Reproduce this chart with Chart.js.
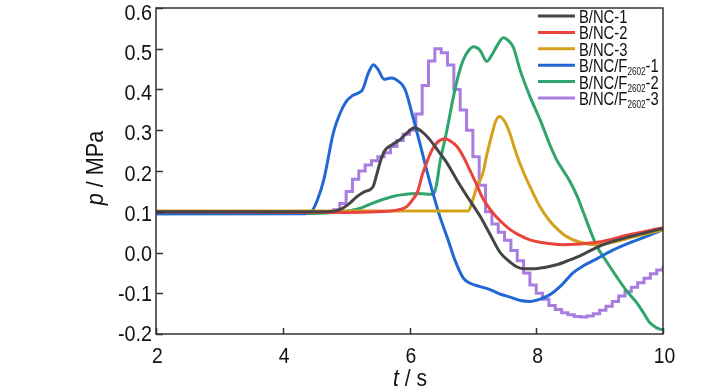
<!DOCTYPE html>
<html>
<head>
<meta charset="utf-8">
<title>p vs t</title>
<script src="https://cdn.jsdelivr.net/npm/chart.js"></script>
<style>
  html, body { margin: 0; padding: 0; background: #fff; }
</style>
</head>
<body>
<canvas id="chartCanvas" width="728" height="390"></canvas>
<script>
  // series: [t (s), p (MPa)]
  const nc1 = [[2, 0.1], [4.7, 0.1], [4.9, 0.105], [5.05, 0.12], [5.17, 0.137], [5.3, 0.15], [5.42, 0.16],
    [5.48, 0.19], [5.55, 0.228], [5.61, 0.25], [5.72, 0.264], [5.85, 0.277], [5.95, 0.292], [6.08, 0.306],
    [6.2, 0.296], [6.32, 0.277], [6.45, 0.25], [6.59, 0.22], [6.74, 0.18], [6.9, 0.14], [7.11, 0.09],
    [7.27, 0.045], [7.43, 0.0], [7.56, -0.02], [7.69, -0.035], [7.82, -0.04], [7.95, -0.04], [8.15, -0.036],
    [8.32, -0.03], [8.5, -0.02], [8.69, -0.008], [9.05, 0.019], [9.48, 0.039], [10, 0.059]];
  const nc2 = [[2, 0.1], [5.0, 0.098], [5.5, 0.1], [5.8, 0.104], [5.95, 0.112], [6.05, 0.13], [6.13, 0.15],
    [6.2, 0.19], [6.27, 0.22], [6.35, 0.25], [6.43, 0.269], [6.56, 0.279], [6.65, 0.273], [6.75, 0.26],
    [6.85, 0.235], [6.95, 0.203], [7.05, 0.17], [7.15, 0.135], [7.3, 0.1], [7.43, 0.078], [7.6, 0.055],
    [7.74, 0.042], [7.9, 0.031], [8.06, 0.025], [8.42, 0.019], [8.96, 0.025], [9.48, 0.044], [10, 0.061]];
  const nc3 = [[2, 0.102], [6.93, 0.102], [7.0, 0.13], [7.06, 0.16], [7.16, 0.196], [7.22, 0.24], [7.3, 0.29],
    [7.36, 0.322], [7.42, 0.334], [7.5, 0.322], [7.58, 0.294], [7.68, 0.245], [7.79, 0.2], [7.9, 0.162],
    [8.05, 0.115], [8.21, 0.078], [8.35, 0.055], [8.48, 0.039], [8.69, 0.025], [8.96, 0.019], [9.2, 0.025],
    [9.48, 0.036], [10, 0.056]];
  const ncf1 = [[2, 0.095], [4.3, 0.095], [4.45, 0.1], [4.55, 0.13], [4.65, 0.18], [4.8, 0.295], [4.9, 0.34],
    [5.0, 0.37], [5.1, 0.385], [5.2, 0.392], [5.26, 0.4], [5.35, 0.44], [5.43, 0.461], [5.5, 0.45],
    [5.6, 0.425], [5.7, 0.428], [5.78, 0.425], [5.93, 0.4], [6.05, 0.335], [6.16, 0.27], [6.27, 0.203],
    [6.38, 0.14], [6.48, 0.088], [6.6, 0.035], [6.72, -0.02], [6.85, -0.063], [6.95, -0.075], [7.1, -0.083],
    [7.27, -0.091], [7.45, -0.103], [7.6, -0.11], [7.75, -0.118], [7.9, -0.12], [8.05, -0.115], [8.21, -0.104],
    [8.4, -0.08], [8.58, -0.05], [8.75, -0.032], [8.96, -0.015], [9.2, 0.005], [9.48, 0.024], [9.75, 0.04],
    [10, 0.056]];
  const ncf2 = [[2, 0.095], [4.5, 0.096], [4.9, 0.1], [5.17, 0.106], [5.4, 0.12], [5.58, 0.13], [5.75, 0.138],
    [5.9, 0.142], [6.11, 0.145], [6.3, 0.143], [6.38, 0.143], [6.43, 0.17], [6.48, 0.22], [6.59, 0.3],
    [6.69, 0.38], [6.78, 0.44], [6.85, 0.473], [6.93, 0.495], [7.01, 0.505], [7.11, 0.497], [7.22, 0.469],
    [7.3, 0.485], [7.38, 0.507], [7.48, 0.527], [7.56, 0.52], [7.64, 0.503], [7.74, 0.45], [7.9, 0.383],
    [8.06, 0.326], [8.2, 0.27], [8.32, 0.228], [8.43, 0.2], [8.53, 0.175], [8.64, 0.14], [8.74, 0.1],
    [8.85, 0.055], [8.96, 0.014], [9.1, -0.02], [9.27, -0.06], [9.43, -0.095], [9.59, -0.124], [9.7, -0.15],
    [9.79, -0.172], [9.9, -0.185], [10, -0.19]];
  // this one is a staircase in the figure
  const ncf3 = [[2, 0.1], [4.7, 0.1], [4.8, 0.105], [4.9, 0.12], [5.0, 0.15], [5.1, 0.18], [5.2, 0.2],
    [5.3, 0.215], [5.4, 0.225], [5.5, 0.235], [5.6, 0.245], [5.7, 0.26], [5.8, 0.275], [5.9, 0.29],
    [6.0, 0.3], [6.1, 0.34], [6.2, 0.41], [6.3, 0.47], [6.4, 0.5], [6.5, 0.49], [6.6, 0.46], [6.7, 0.4],
    [6.8, 0.35], [6.9, 0.3], [7.0, 0.235], [7.1, 0.165], [7.2, 0.1], [7.3, 0.07], [7.4, 0.05], [7.5, 0.03],
    [7.6, 0.005], [7.7, -0.02], [7.8, -0.05], [7.9, -0.08], [8.0, -0.1], [8.1, -0.115], [8.2, -0.13],
    [8.3, -0.14], [8.4, -0.148], [8.5, -0.153], [8.6, -0.157], [8.7, -0.158], [8.8, -0.156], [8.9, -0.15],
    [9.0, -0.142], [9.1, -0.132], [9.2, -0.12], [9.3, -0.107], [9.4, -0.096], [9.5, -0.085], [9.6, -0.074],
    [9.7, -0.063], [9.8, -0.052], [9.9, -0.043], [10.0, -0.034]];

  // legend names split as [main, subscript, tail]
  const names = [['B/NC-1', '', ''], ['B/NC-2', '', ''], ['B/NC-3', '', ''],
    ['B/NC/F', '2602', '-1'], ['B/NC/F', '2602', '-2'], ['B/NC/F', '2602', '-3']];
  const colors = ['#454545', '#e8443c', '#d4a11c', '#2268d4', '#2fa46c', '#a87de0'];
  const series = [nc1, nc2, nc3, ncf1, ncf2, ncf3];

  const FONT = "'Liberation Sans', Arial, sans-serif";

  const datasets = series.map((s, i) => ({
    label: names[i].join(''),
    data: s.map(p => ({ x: p[0], y: p[1] })),
    borderColor: colors[i],
    borderWidth: 3,
    pointRadius: 0,
    fill: false,
    stepped: i === 5 ? 'before' : false,
    cubicInterpolationMode: 'monotone'
  }));

  // draw a row of text pieces squeezed horizontally (the figure uses a narrow face)
  function drawRuns(ctx, runs, x, y, sx, align) {
    let w = 0;
    runs.forEach(r => { ctx.font = r.font; w += ctx.measureText(r.text).width; });
    let start = align === 'right' ? -w : align === 'center' ? -w / 2 : 0;
    ctx.save();
    ctx.translate(x, y);
    ctx.scale(sx, 1);
    runs.forEach(r => {
      ctx.font = r.font;
      ctx.fillText(r.text, start, r.dy || 0);
      start += ctx.measureText(r.text).width;
    });
    ctx.restore();
  }

  const framePlugin = {
    id: 'frame',
    afterDraw(chart) {
      const { ctx, chartArea: a, scales: { x, y } } = chart;
      ctx.save();
      ctx.strokeStyle = '#333';
      ctx.lineWidth = 1.5;
      ctx.strokeRect(a.left, a.top, a.right - a.left, a.bottom - a.top);
      ctx.beginPath();
      y.ticks.forEach(t => {
        const py = Math.round(y.getPixelForValue(t.value)) + 0.5;
        ctx.moveTo(a.left, py); ctx.lineTo(a.left + 7, py);
      });
      x.ticks.forEach(t => {
        const px = Math.round(x.getPixelForValue(t.value)) + 0.5;
        ctx.moveTo(px, a.bottom); ctx.lineTo(px, a.bottom - 6);
      });
      ctx.stroke();

      ctx.fillStyle = '#111';
      const tickFont = '22px ' + FONT;
      // tick labels (the figure's labels sit a little low near the top)
      ctx.textBaseline = 'middle';
      y.ticks.forEach(t => {
        const v = Math.abs(t.value) < 1e-9 ? 0 : t.value;
        const drop = 1 + 5 * (t.value + 0.2) / 0.8;
        drawRuns(ctx, [{ text: v.toFixed(1), font: tickFont }], a.left - 4, y.getPixelForValue(t.value) + drop, 0.9, 'right');
      });
      ctx.textBaseline = 'alphabetic';
      x.ticks.forEach(t => {
        drawRuns(ctx, [{ text: String(t.value), font: tickFont }], x.getPixelForValue(t.value) + 1.5, a.bottom + 29, 0.88, 'center');
      });

      // axis titles
      const ti = 'italic 24px ' + FONT, tn = '24px ' + FONT;
      drawRuns(ctx, [{ text: 't', font: ti }, { text: ' / s', font: tn }], 410, 386, 0.88, 'center');
      ctx.save();
      ctx.translate(103, 168);
      ctx.rotate(-Math.PI / 2);
      drawRuns(ctx, [{ text: 'p', font: ti }, { text: ' / MPa', font: tn }], 0, 0, 0.9, 'center');
      ctx.restore();

      // legend
      names.forEach((n, i) => {
        const ly = 16 + i * 16.4;
        ctx.strokeStyle = colors[i];
        ctx.lineWidth = 3;
        ctx.beginPath();
        ctx.moveTo(538, ly); ctx.lineTo(575, ly);
        ctx.stroke();
        const runs = [{ text: n[0], font: '18px ' + FONT }];
        if (n[1]) {
          runs.push({ text: n[1], font: '10px ' + FONT, dy: 3 });
          runs.push({ text: n[2], font: '18px ' + FONT });
        }
        drawRuns(ctx, runs, 579, ly + 7, 0.82, 'left');
      });
      ctx.restore();
    }
  };

  new Chart(document.getElementById('chartCanvas').getContext('2d'), {
    type: 'line',
    data: { datasets: datasets },
    options: {
      responsive: false,
      animation: false,
      layout: { padding: { left: 0, right: 65, top: 8, bottom: 0 } },
      plugins: { legend: { display: false }, tooltip: { enabled: false } },
      scales: {
        x: {
          type: 'linear', min: 2, max: 10,
          afterFit: s => { s.height = 56; },
          grid: { display: false, drawTicks: false },
          border: { display: false },
          ticks: { display: false, stepSize: 2 }
        },
        y: {
          type: 'linear', min: -0.2, max: 0.6,
          afterFit: s => { s.width = 156; },
          grid: { display: false, drawTicks: false },
          border: { display: false },
          ticks: { display: false, stepSize: 0.1 }
        }
      }
    },
    plugins: [framePlugin]
  });
</script>
</body>
</html>
